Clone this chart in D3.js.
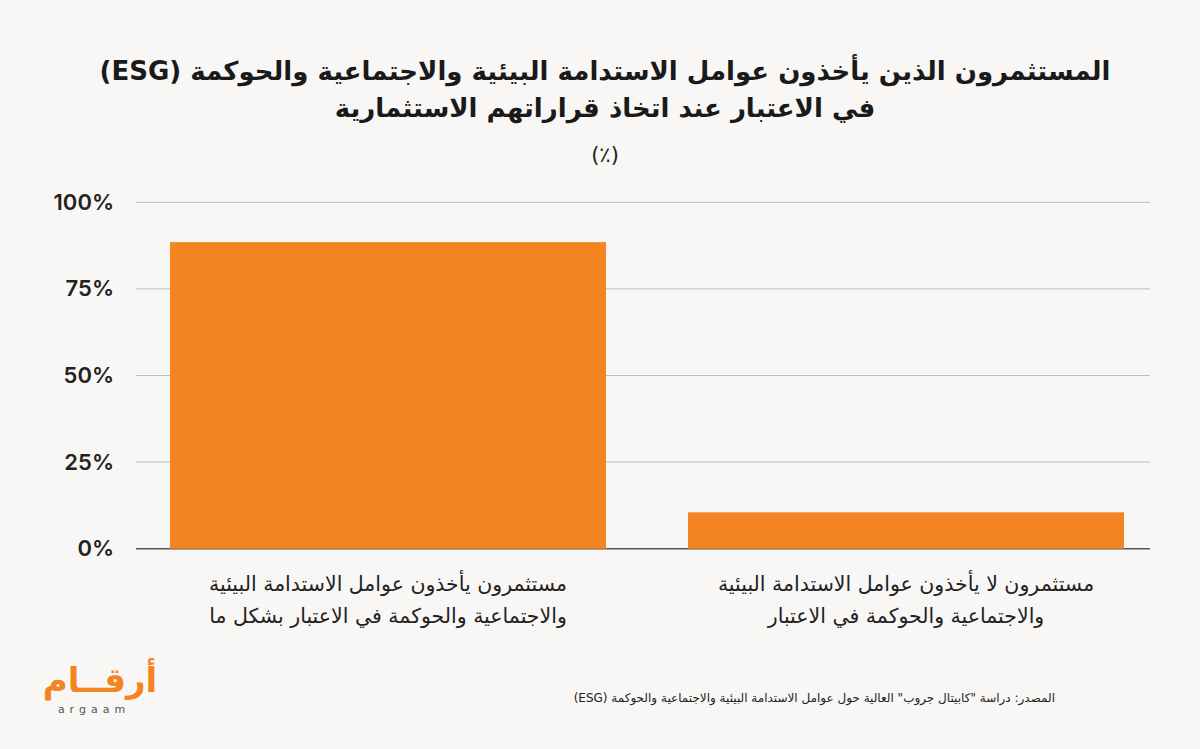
<!DOCTYPE html>
<html lang="ar">
<head>
<meta charset="utf-8">
<script src="https://cdn.jsdelivr.net/npm/d3@7"></script>
<style>
  html, body { margin: 0; padding: 0; background: #f8f7f5; }
  svg { display: block; }
</style>
</head>
<body>
<svg width="1200" height="749"></svg>
<script>
var svg = d3.select("svg"),
  width = +svg.attr("width"),
  height = +svg.attr("height");

// data
var categories = [
  ["مستثمرون يأخذون عوامل الاستدامة البيئية", "والاجتماعية والحوكمة في الاعتبار بشكل ما"],
  ["مستثمرون لا يأخذون عوامل الاستدامة البيئية", "والاجتماعية والحوكمة في الاعتبار"]
];
var values = [88.5, 10.5];
var yTicks = [0, 25, 50, 75, 100];
var titleLines = [
  "المستثمرون الذين يأخذون عوامل الاستدامة البيئية والاجتماعية والحوكمة (ESG)",
  "في الاعتبار عند اتخاذ قراراتهم الاستثمارية"
];
var unitLabel = "(٪)";
var sourceText = "المصدر: دراسة \"كابيتال جروب\" العالية حول عوامل الاستدامة البيئية والاجتماعية والحوكمة  (ESG)";

var arFont = "'DejaVu Sans', sans-serif";
var numFont = "Inter, 'Open Sans', sans-serif";
var barColor = "#f48322";

var x = d3.scaleBand()
  .domain(d3.range(values.length))
  .range([136, 1158])
  .paddingInner(0.1583)
  .paddingOuter(0.0656);

var y = d3.scaleLinear()
  .domain([0, 100])
  .range([548.7, 202.3]);

// gridlines
svg.append("g")
  .selectAll("line")
  .data(yTicks)
  .enter()
  .append("line")
  .attr("x1", 136)
  .attr("x2", 1150)
  .attr("y1", function (d) { return y(d); })
  .attr("y2", function (d) { return y(d); })
  .attr("stroke", function (d) { return d === 0 ? "#555" : "#bdbdbd"; })
  .attr("stroke-width", function (d) { return d === 0 ? 1.5 : 1; });

// y axis labels
var yAxis = d3.axisLeft(y)
  .tickValues(yTicks)
  .tickSize(0)
  .tickPadding(0)
  .tickFormat(function (d) { return d + "%"; });

svg.append("g")
  .attr("transform", "translate(114,0)")
  .call(yAxis)
  .call(function (g) { g.select(".domain").remove(); })
  .selectAll("text")
  .attr("font-family", numFont)
  .attr("font-size", 22)
  .attr("font-weight", 600)
  .attr("fill", "#222");

// bars
svg.append("g")
  .selectAll("rect")
  .data(values)
  .enter()
  .append("rect")
  .attr("x", function (d, i) { return x(i); })
  .attr("y", function (d) { return y(d); })
  .attr("width", x.bandwidth())
  .attr("height", function (d) { return y(0) - y(d); })
  .attr("fill", barColor);

// category labels
var cat = svg.append("g")
  .selectAll("text")
  .data(categories)
  .enter()
  .append("text")
  .attr("direction", "rtl")
  .attr("text-anchor", "middle")
  .attr("font-family", arFont)
  .attr("font-size", 20.5)
  .attr("fill", "#222");

cat.selectAll("tspan")
  .data(function (d, i) { return d.map(function (t) { return { t: t, i: i }; }); })
  .enter()
  .append("tspan")
  .attr("x", function (d) { return x(d.i) + x.bandwidth() / 2; })
  .attr("y", function (d, j) { return 591 + j * 32; })
  .text(function (d) { return d.t; });

// title
svg.append("g")
  .selectAll("text")
  .data(titleLines)
  .enter()
  .append("text")
  .attr("direction", "rtl")
  .attr("text-anchor", "middle")
  .attr("x", 605)
  .attr("y", function (d, i) { return 80 + i * 37; })
  .attr("font-family", arFont)
  .attr("font-size", 26)
  .attr("font-weight", "bold")
  .attr("fill", "#1a1a1a")
  .text(function (d) { return d; });

svg.append("text")
  .attr("text-anchor", "middle")
  .attr("x", 605)
  .attr("y", 162)
  .attr("font-family", arFont)
  .attr("font-size", 21)
  .attr("fill", "#222")
  .text(unitLabel);

// source
svg.append("text")
  .attr("direction", "rtl")
  .attr("text-anchor", "start")
  .attr("x", 1055)
  .attr("y", 702)
  .attr("font-family", arFont)
  .attr("font-size", 12)
  .attr("fill", "#222")
  .text(sourceText);

// logo
svg.append("text")
  .attr("direction", "rtl")
  .attr("text-anchor", "middle")
  .attr("x", 100)
  .attr("y", 692)
  .attr("font-family", arFont)
  .attr("font-size", 34)
  .attr("font-weight", "bold")
  .attr("fill", barColor)
  .text("أرقــام");

svg.append("text")
  .attr("text-anchor", "middle")
  .attr("x", 94)
  .attr("y", 713)
  .attr("font-family", arFont)
  .attr("font-size", 11)
  .attr("letter-spacing", 5)
  .attr("fill", "#555")
  .text("argaam");
</script>
</body>
</html>
